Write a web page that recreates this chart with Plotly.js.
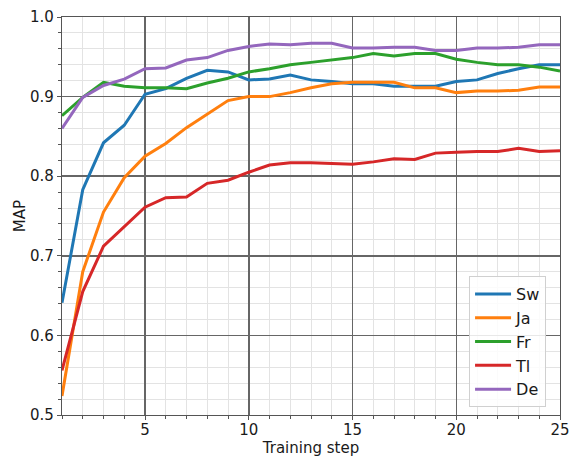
<!DOCTYPE html>
<html>
<head>
<meta charset="utf-8">
<script src="https://cdn.plot.ly/plotly-3.0.1.min.js"></script>
<style>html,body{margin:0;padding:0;background:#fff;}#chart{width:569px;height:457px;}</style>
</head>
<body>
<div id="chart"></div>
<script>
const steps = [1,2,3,4,5,6,7,8,9,10,11,12,13,14,15,16,17,18,19,20,21,22,23,24,25];
const sw = [0.641,0.783,0.842,0.864,0.903,0.910,0.923,0.933,0.931,0.921,0.922,0.927,0.921,0.919,0.916,0.916,0.913,0.913,0.913,0.919,0.921,0.929,0.935,0.940,0.940];
const ja = [0.524,0.680,0.755,0.798,0.825,0.841,0.861,0.878,0.895,0.900,0.900,0.905,0.911,0.916,0.918,0.918,0.918,0.911,0.911,0.905,0.907,0.907,0.908,0.912,0.912];
const fr = [0.876,0.899,0.918,0.913,0.911,0.911,0.910,0.917,0.923,0.931,0.935,0.940,0.943,0.946,0.949,0.954,0.951,0.954,0.954,0.947,0.943,0.940,0.940,0.937,0.932];
const tl = [0.556,0.655,0.712,0.737,0.761,0.773,0.774,0.791,0.795,0.805,0.814,0.817,0.817,0.816,0.815,0.818,0.822,0.821,0.829,0.830,0.831,0.831,0.835,0.831,0.832];
const de = [0.860,0.899,0.914,0.922,0.935,0.936,0.946,0.949,0.958,0.963,0.966,0.965,0.967,0.967,0.961,0.961,0.962,0.962,0.958,0.958,0.961,0.961,0.962,0.965,0.965];
const names = ["Sw","Ja","Fr","Tl","De"];
const colors = ["#1f77b4","#ff7f0e","#2ca02c","#d62728","#9467bd"];
const series = [sw, ja, fr, tl, de];

const traces = series.map((s, i) => ({
  x: steps, y: s, name: names[i], type: 'scatter', mode: 'lines',
  line: {color: colors[i], width: 3}
}));

const font = {family: 'DejaVu Sans, sans-serif', size: 15, color: '#1a1a1a'};
const axisCommon = {
  showline: true, mirror: true, linecolor: '#555', linewidth: 1.2,
  showgrid: true, gridcolor: '#666', gridwidth: 1.5,
  ticks: 'outside', ticklen: 4, tickcolor: '#555', tickwidth: 1,
  zeroline: false, tickfont: font, ticklabeloverflow: 'allow'
};
const layout = {
  width: 569, height: 457,
  margin: {l: 62, r: 9, t: 17, b: 42},
  paper_bgcolor: '#fff', plot_bgcolor: '#fff',
  font: font,
  showlegend: true,
  xaxis: Object.assign({}, axisCommon, {
    range: [1, 25], tick0: 0, dtick: 5, ticklabelstandoff: -3,
    title: {text: 'Training step', font: font},
    minor: {dtick: 1, tick0: 0, showgrid: true, gridcolor: '#e3e3e3', gridwidth: 1, ticks: 'outside', ticklen: 2.5, tickcolor: '#555'}
  }),
  yaxis: Object.assign({}, axisCommon, {
    range: [0.5, 1.0], tick0: 0.5, dtick: 0.1, tickformat: '.1f',
    automargin: true,
    title: {text: 'MAP', font: font, standoff: 0},
    minor: {dtick: 0.02, tick0: 0.5, showgrid: true, gridcolor: '#e3e3e3', gridwidth: 1, ticks: 'outside', ticklen: 2.5, tickcolor: '#555'}
  }),
  legend: {
    x: 0.972, y: 0.02, xanchor: 'right', yanchor: 'bottom',
    bgcolor: 'rgba(255,255,255,0.85)', bordercolor: '#d0d0d0', borderwidth: 1,
    font: {family: 'DejaVu Sans, sans-serif', size: 16, color: '#1a1a1a'},
    tracegroupgap: 0, itemwidth: 36
  }
};
Plotly.newPlot('chart', traces, layout, {displayModeBar: false, staticPlot: true});
</script>
</body>
</html>
